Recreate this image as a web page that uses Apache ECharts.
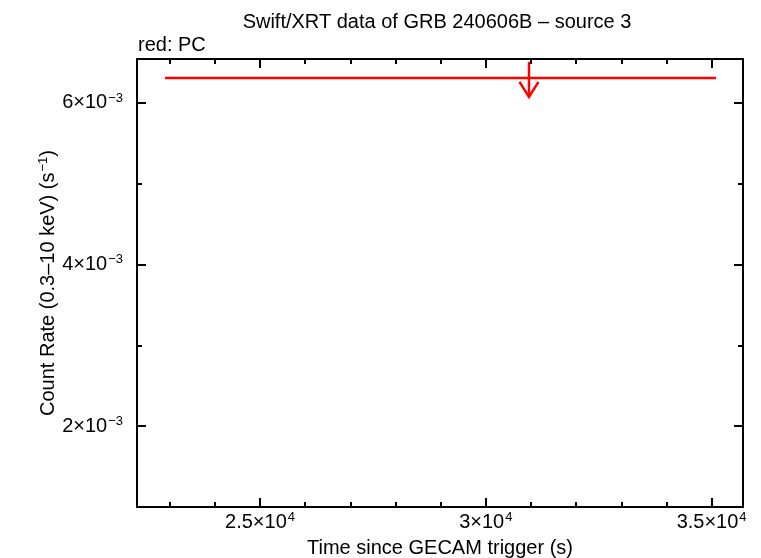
<!DOCTYPE html>
<html><head><meta charset="utf-8">
<script src="https://cdn.jsdelivr.net/npm/echarts@6/dist/echarts.min.js"></script>
<style>html,body{margin:0;padding:0;background:#fff}#c{width:761px;height:558px}</style>
</head><body><div id="c"></div>
<script>
// ---- text ----
const chartTitle = 'Swift/XRT data of GRB 240606B \u2013 source 3';
const legendNote = 'red: PC';
const xAxisTitle = 'Time since GECAM trigger (s)';

// ---- data (PC mode upper limit) ----
const pcTime   = [30956];
const pcTimeLo = [22896];
const pcTimeHi = [35097];
const pcRate   = [0.006306];

// ---- axes ----
const xRange = [22276, 35695];
const yRange = [0.001, 0.00654];
const xMajorTicks = [25000, 30000, 35000];
const xMinorTicks = [23000, 24000, 26000, 27000, 28000, 29000, 31000, 32000, 33000, 34000];
const xTickMantissa = ['2.5', '3', '3.5'];
const xTickExponent = ['4', '4', '4'];
const yMajorTicks = [0.002, 0.004, 0.006];
const yMinorTicks = [0.003, 0.005];
const yTickMantissa = ['2', '4', '6'];
const yTickExponent = ['\u22123', '\u22123', '\u22123'];

const FONT = '"Liberation Sans", Arial, Helvetica, sans-serif';
const FS = 20;
const rich = {
  b: {fontFamily: FONT, fontSize: FS, color: '#000', lineHeight: 22},
  s: {fontFamily: FONT, fontSize: 13, color: '#000', verticalAlign: 'top', lineHeight: 22, padding: [0, 0, 0, 1]}
};
function fmt(list, mant, exps) {
  return function (v) {
    for (let i = 0; i < list.length; i++) {
      if (Math.abs(v - list[i]) < 1e-9 * Math.max(1, Math.abs(list[i]))) {
        return '{b|' + mant[i] + '\u00D710}{s|' + exps[i] + '}';
      }
    }
    return '';
  };
}
const lineBlack = {color: '#000', width: 2};

function xAxisCfg(pos, major) {
  return {
    type: 'value', position: pos, min: xRange[0], max: xRange[1],
    axisLine: {show: major, onZero: false, lineStyle: lineBlack},
    axisTick: {show: true, inside: true, length: major ? 9 : 5,
      customValues: major ? xMajorTicks : xMinorTicks, lineStyle: lineBlack},
    axisLabel: (major && pos === 'bottom') ? {
      show: true, customValues: xMajorTicks, margin: 4,
      formatter: fmt(xMajorTicks, xTickMantissa, xTickExponent), rich: rich
    } : {show: false},
    splitLine: {show: false},
    name: (major && pos === 'bottom') ? xAxisTitle : '',
    nameLocation: 'middle', nameGap: 31, nameMoveOverlap: false,
    nameTextStyle: {fontFamily: FONT, fontSize: FS, color: '#000'}
  };
}
function yAxisCfg(pos, major) {
  return {
    type: 'value', position: pos, min: yRange[0], max: yRange[1],
    axisLine: {show: major, onZero: false, lineStyle: lineBlack},
    axisTick: {show: true, inside: true, length: major ? 9 : 5,
      customValues: major ? yMajorTicks : yMinorTicks, lineStyle: lineBlack},
    axisLabel: (major && pos === 'left') ? {
      show: true, customValues: yMajorTicks, margin: 14,
      formatter: fmt(yMajorTicks, yTickMantissa, yTickExponent), rich: rich
    } : {show: false},
    splitLine: {show: false},
    name: (major && pos === 'left') ? '{b|Count Rate (0.3\u201310 keV) (s}{s|\u22121}{b|)}' : '',
    nameLocation: 'middle', nameGap: 78, nameRotate: 90, nameMoveOverlap: false,
    nameTextStyle: {rich: rich}
  };
}

const chart = echarts.init(document.getElementById('c'), null, {renderer: 'canvas'});
chart.setOption({
  animation: false,
  backgroundColor: '#fff',
  title: [
    {text: chartTitle, left: 432, top: 7, textAlign: 'center',
      textStyle: {fontFamily: FONT, fontSize: FS, fontWeight: 'normal', color: '#000'}},
    {text: legendNote, left: 133, top: 30,
      textStyle: {fontFamily: FONT, fontSize: FS, fontWeight: 'normal', color: '#000'}}
  ],
  grid: {left: 137, right: 18, top: 59, bottom: 51, containLabel: false, outerBoundsMode: 'none'},
  xAxis: [xAxisCfg('bottom', true), xAxisCfg('bottom', false), xAxisCfg('top', true), xAxisCfg('top', false)],
  yAxis: [yAxisCfg('left', true), yAxisCfg('left', false), yAxisCfg('right', true), yAxisCfg('right', false)],
  series: [{
    type: 'custom',
    xAxisIndex: 0, yAxisIndex: 0,
    data: pcTime.map((t, i) => [t, pcTimeLo[i], pcTimeHi[i], pcRate[i]]),
    encode: {x: [0, 1, 2], y: 3},
    renderItem: function (params, api) {
      const x = api.value(0), lo = api.value(1), hi = api.value(2), y = api.value(3);
      const pL = api.coord([lo, y]), pR = api.coord([hi, y]), pC = api.coord([x, y]);
      const st = {stroke: '#ff0000', lineWidth: 2.5, fill: null};
      return {type: 'group', children: [
        {type: 'line', shape: {x1: pL[0], y1: pL[1], x2: pR[0], y2: pR[1]}, style: st},
        {type: 'line', shape: {x1: pC[0], y1: pC[1] - 16, x2: pC[0], y2: pC[1] + 19}, style: st},
        {type: 'polyline', shape: {points: [[pC[0] - 9.5, pC[1] + 4], [pC[0], pC[1] + 19], [pC[0] + 9.5, pC[1] + 4]]}, style: st}
      ]};
    }
  }]
});
</script>
</body></html>
